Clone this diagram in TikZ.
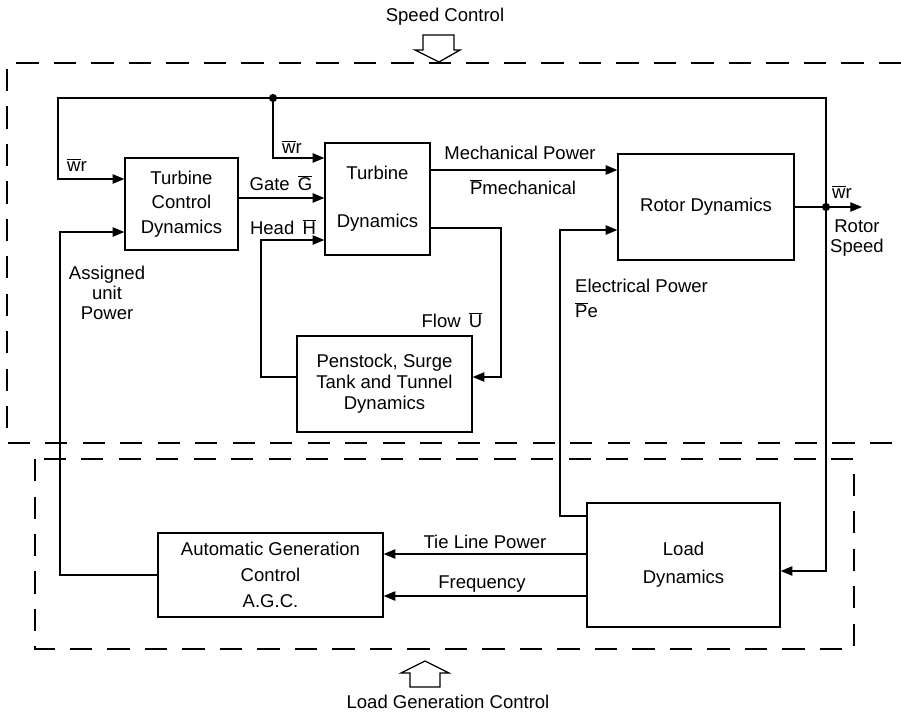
\documentclass[tikz,border=0pt]{standalone}
\usepackage{fontspec}
\setmainfont{Liberation Sans}
\usetikzlibrary{calc, arrows.meta, positioning}

\newlength\pix
\setlength\pix{0.03cm}
\newcommand{\ovl}[1]{$\overline{\mbox{#1}}$}

\tikzset{
  block/.style={draw, line width=1.1pt, align=center, inner sep=0pt},
  sig/.style={line width=1.1pt, -{Triangle[length=10pt, width=8pt]}},
  wire/.style={line width=1.1pt},
  zone/.style={line width=1.1pt, dash pattern=on 19pt off 13pt},
  lbl/.style={inner sep=0pt, align=center},
  junction/.style={circle, fill, inner sep=0pt, minimum size=7pt},
}

\begin{document}
\begin{tikzpicture}[x=0.03cm, y=-0.03cm, font=\fontsize{15.8}{21}\selectfont]
            \useasboundingbox (0,0) rectangle (901,716);
            % dashed zones
            \draw[zone] (901,63) -- (7,63) -- (7,443) -- (901,443);
            \draw[zone] (35,459) rectangle (854,649);
            % hollow arrows
            \draw[wire] (423,35) -- (454,35) -- (454,50) -- (460,50) -- (439,62)
                        -- (415,50) -- (423,50) -- cycle;
            \draw[wire] (410,687) -- (440,687) -- (440,673) -- (449,673) -- (425,661)
                        -- (401,673) -- (410,673) -- cycle;
            \node[lbl] (speedctl) at (445,17) {Speed Control};
            \node[lbl] (loadctl) at (448,702) {Load Generation Control};
            % blocks
            \node[block, minimum width=113\pix, minimum height=92\pix] (tcd) at (181.5,204)
                {Turbine\\Control\\Dynamics};
            \node[block, minimum width=105\pix, minimum height=112\pix] (td) at (377.5,199)
                {Turbine\\[20pt]Dynamics};
            \node[block, minimum width=176\pix, minimum height=106\pix] (rotor) at (706,207)
                {Rotor Dynamics};
            \node[block, minimum width=175\pix, minimum height=96\pix, font=\fontsize{15.8}{18}\selectfont] (pen) at (384.5,384)
                {Penstock, Surge\\Tank and Tunnel\\Dynamics};
            \node[block, minimum width=225\pix, minimum height=84\pix, font=\fontsize{15.8}{22}\selectfont] (agc) at (270.5,575)
                {Automatic Generation\\Control\\A.G.C.};
            \node[block, minimum width=193\pix, minimum height=124\pix, font=\fontsize{15.8}{24}\selectfont] (ld) at (683.5,565)
                {Load\\Dynamics};
            % junctions
            \node[junction] (dotA) at (273,98) {};
            \node[junction] (dotB) at (826,207) {};
            \coordinate (speedout) at (862,207);
            % connectors
            \draw[wire] (rotor.east) -- (dotB);
            \draw[sig] (dotB.center) -- (speedout);
            \draw[sig] (dotB.center) |- (dotA.center) -| (58,179) -- (tcd.west |- 0,179);
            \draw[sig] (dotA.center) |- (td.west |- 0,158);
            \draw[sig] (dotB.center) |- (ld.east |- 0,571);
            \draw[sig] (tcd.east |- 0,198) -- (td.west |- 0,198);
            \draw[sig] (pen.west |- 0,377) -| (261,240) -- (td.west |- 0,240);
            \draw[sig] (td.east |- 0,170) -- (rotor.west |- 0,170);
            \draw[sig] (td.east |- 0,228) -| (501,377) -- (pen.east |- 0,377);
            \draw[sig] (ld.west |- 0,516) -| (560,230) -- (rotor.west |- 0,230);
            \draw[sig] (ld.west |- 0,554) -- (agc.east |- 0,554);
            \draw[sig] (ld.west |- 0,596) -- (agc.east |- 0,596);
            \draw[sig] (agc.west |- 0,575) -| (60,232) -- (tcd.west |- 0,232);
            % labels
            \node[lbl] (wrA) at (77,165) {\ovl{w}r};
            \node[lbl] (wrB) at (292,147) {\ovl{w}r};
            \node[lbl] (wrC) at (842,192) {\ovl{w}r};
            \node[lbl] (gate) at (281,183) {Gate\, \ovl{G}};
            \node[lbl] (head) at (283,227) {Head\, \ovl{H}};
            \node[lbl] (mech) at (520,153) {Mechanical Power};
            \node[lbl] (pmech) at (523,187) {\ovl{P}mechanical};
            \node[lbl] (flow) at (452,320) {Flow\, \ovl{U}};
            \node[lbl, anchor=west] (elec) at (575,286) {Electrical Power};
            \node[lbl, anchor=west] (pe) at (575,310) {\ovl{P}e};
            \node[lbl, font=\fontsize{15.8}{17}\selectfont] (assigned) at (107,293) {Assigned\\unit\\Power};
            \node[lbl, font=\fontsize{15.8}{17}\selectfont] (rotspeed) at (857,238) {Rotor\\Speed};
            \node[lbl] (tie) at (485,542) {Tie Line Power};
            \node[lbl] (freq) at (482,584) {Frequency};
        \end{tikzpicture}
\end{document}
